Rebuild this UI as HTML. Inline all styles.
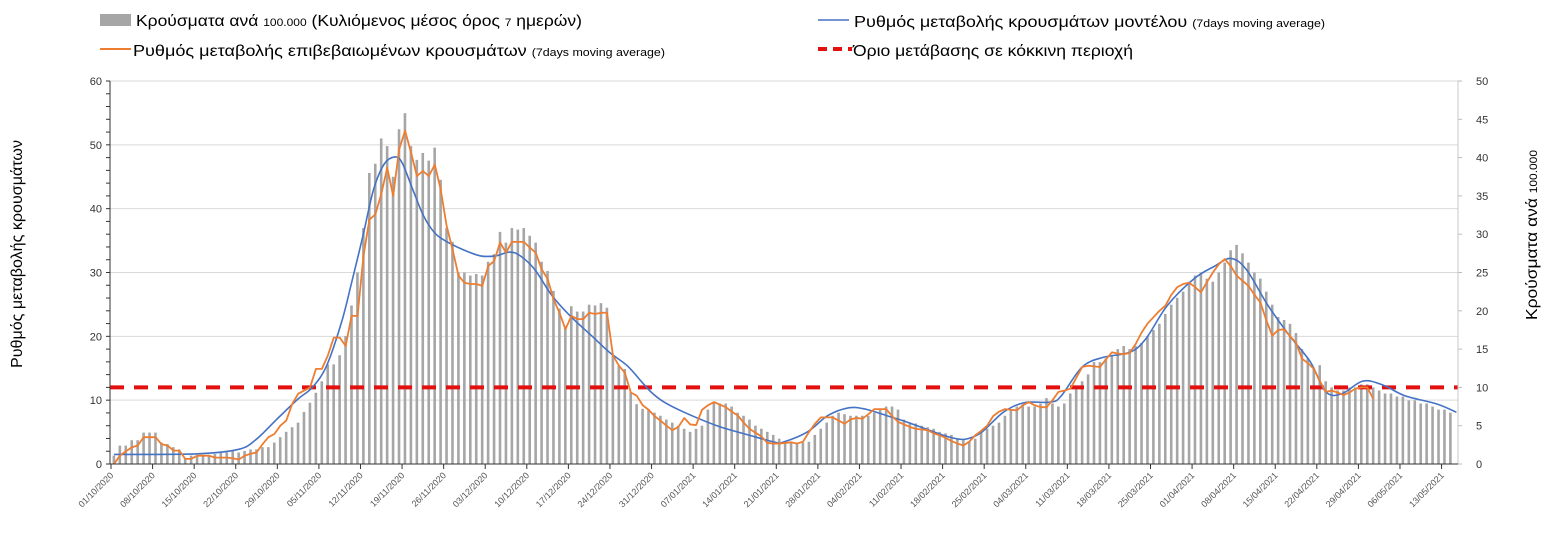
<!DOCTYPE html>
<html><head><meta charset="utf-8"><style>
html,body{margin:0;padding:0;background:#fff;}
svg{display:block;font-family:"Liberation Sans",Arial,sans-serif;}
</style></head><body>
<svg id="chart" width="1552" height="555" viewBox="0 0 1552 555">
<g id="legend">
 <g>
  <rect x="100" y="14" width="31" height="12" fill="#a6a6a6"/>
  <text x="136" y="26" font-size="16" fill="#000" textLength="446" lengthAdjust="spacingAndGlyphs">Κρούσματα ανά <tspan font-size="11">100.000</tspan> (Κυλιόμενος μέσος όρος <tspan font-size="11">7</tspan> ημερών)</text>
 </g>
 <g>
  <line x1="100" y1="49" x2="131" y2="49" stroke="#ed7d31" stroke-width="2"/>
  <text x="133" y="56" font-size="16" fill="#000" textLength="532" lengthAdjust="spacingAndGlyphs">Ρυθμός μεταβολής επιβεβαιωμένων κρουσμάτων <tspan font-size="11">(7days moving average)</tspan></text>
 </g>
 <g>
  <line x1="818" y1="20" x2="849" y2="20" stroke="#4472c4" stroke-width="1.5"/>
  <text x="854" y="27" font-size="16" fill="#000" textLength="471" lengthAdjust="spacingAndGlyphs">Ρυθμός μεταβολής κρουσμάτων μοντέλου <tspan font-size="11">(7days moving average)</tspan></text>
 </g>
 <g>
  <line x1="818" y1="49" x2="852" y2="49" stroke="#e31010" stroke-width="4" stroke-dasharray="9 6"/>
  <text x="853" y="56" font-size="16" fill="#000" textLength="280" lengthAdjust="spacingAndGlyphs">Όριο μετάβασης σε κόκκινη περιοχή</text>
 </g>
</g>
<text transform="translate(22,254) rotate(-90)" text-anchor="middle" font-size="16" fill="#000" textLength="228" lengthAdjust="spacingAndGlyphs">Ρυθμός μεταβολής κρουσμάτων</text>
<text transform="translate(1537,235) rotate(-90)" text-anchor="middle" font-size="16" fill="#000" textLength="170" lengthAdjust="spacingAndGlyphs">Κρούσματα ανά <tspan font-size="11">100.000</tspan></text>
<g id="grid"></g>
<g id="bars"></g>
<g id="threshold"></g>
<g id="lines"></g>
<g id="axes"></g>
</svg>
<script>
const barValues=[1.1,2.4,2.4,3.1,3.1,4.1,4.1,4.1,2.8,2.6,2.2,1.9,0.8,1.1,1.1,1.2,1.2,1.3,1.5,1.5,1.8,1.5,1.7,1.9,1.9,2.2,2.2,2.8,3.5,4.2,4.8,5.4,6.8,8,9.3,10.8,13,13,14.2,16.7,20.7,25,30.8,38,39.2,42.5,41.5,37.5,43.7,45.8,41.5,39.7,40.6,39.6,41.3,37.1,30.8,29,25,25,24.6,24.8,24.6,26.4,27.4,30.3,28.9,30.8,30.6,30.8,29.8,28.9,26.4,25.2,22.6,20.3,18,20.6,19.9,19.9,20.8,20.7,21,20.4,14.2,12.8,12.4,9.3,7.8,7.2,7.1,6.7,6.3,5.8,5.4,5,4.6,4.2,4.6,5,7.1,7.9,7.9,7.9,7.5,6.7,6.3,5.8,5,4.6,4.2,3.8,3.3,2.9,2.9,2.8,2.8,2.9,3.8,4.6,5.4,6.3,6.7,6.5,6.3,6.3,6.3,6.3,6.7,7.1,7.5,7.5,7.1,5.8,5.4,5.3,5,4.8,4.6,4.2,4,3.8,3.3,3.2,2.9,3.3,4.2,4.6,5,5.4,6.3,7.1,7.5,7.8,7.5,7.5,7.9,8.6,7.9,7.5,7.9,9.2,10,10.8,11.7,13.3,13.3,13.8,14.2,15,15.4,15,15.4,15.8,16.7,17.5,18.3,19.6,20.8,21.7,22.5,23.8,24.6,25,24.2,23.8,25,26.3,27.9,28.6,27.5,26.3,25,24.2,22.5,20.8,19.2,18.8,18.3,17.1,15,13.8,12.5,12.9,10.8,10,9.6,9.6,10,10,10.4,10.4,10,9.6,9.2,9.2,8.8,8.8,8.3,8.3,7.9,7.9,7.5,7.1,7.1,6.7];
const confirmedRate=[0,1.3,2,2.6,2.9,4.2,4.2,4.2,3.1,2.9,2.1,2.1,0.8,0.8,1.3,1.3,1.3,1,1,1,0.9,0.7,1.3,1.6,1.8,3.1,4.2,4.7,6,6.8,9.4,11,11.5,12,14.9,14.9,17,19.8,19.8,18.5,23.2,23.2,32.6,38.3,39.1,42.3,46.4,42,49.3,52.2,48.8,45.1,45.9,45.1,46.9,43,37.3,33.6,29.5,28.4,28.2,28.2,27.9,31,31.8,34.7,33.1,34.8,34.8,34.8,33.9,33.1,30.5,29,25.8,23.7,21.1,23.2,22.7,22.7,23.7,23.5,23.7,23.7,17,15.4,14.3,11.2,10.7,9.2,8.5,7.5,6.8,6,5.3,5.8,7.2,6.2,6.1,8.5,9.2,9.7,9.3,8.9,8.2,7.6,6.5,5.5,4.9,4.3,3.3,3.2,3.2,3.3,3.4,3.2,3.5,5,6.3,7.3,7.3,7.3,6.8,6.3,7,7.2,7.1,7.8,8.6,8.6,8.6,7.5,6.6,6.2,5.8,5.5,5.4,5.3,4.8,4.5,4.1,3.6,3.2,2.9,3.5,4.5,5.2,6,7.5,8.2,8.6,8.5,8.4,9.2,9.7,9.2,8.9,8.9,10,11.3,11.5,11.8,13.5,15.2,15.4,15.3,15.2,16.4,17.5,17.3,17.2,17.4,18.8,20.6,22,23,24,24.8,26.5,27.7,28.2,28.4,27.7,26.9,28.5,30,31.3,32.1,31,29.5,28.7,27.9,26.5,25.3,22.5,20.1,21,21.1,20,19,16.5,15.8,14.9,13,11.3,11.5,11.2,10.8,11.2,11.8,12,12,10.2];
const modelDays=[0,14,21,24,27.4,31,33.4,35.8,38.3,40,41.9,43.7,45.5,47.3,48.5,50.3,52.1,53.9,55.7,58.7,61.7,64.2,66.6,68.4,70.8,73.8,76.8,80.4,83.4,86.4,88.9,90.5,92.6,96,101.5,107,111.3,112.6,116.7,120.2,123.7,126.5,130,133.7,137.2,140.7,143.4,146.1,149.7,153.2,157.7,159.5,163,166.5,171,173.7,177.3,181.8,185.3,188,190.6,194.3,197.9,201.4,204,206.7,210.3,213.8,217.3,222.7,226];
const modelRate=[1.5,1.6,2.3,3.9,7,10.2,12,15.4,22.2,28.4,35.7,43,47,48.1,47.2,43,38.9,36.3,35,33.6,32.6,32.6,33.2,32.6,30.5,26.3,23.2,20.1,17.5,15.4,12.8,11.2,9.7,8.1,6,4.5,3.4,3.4,5,7.6,8.8,8.6,7.6,6.5,5.3,4.2,3.9,5,8.1,9.6,9.7,10.7,15.2,16.7,17.5,19.6,24.8,29,31,32.2,30.5,24.8,20.1,16,11.3,11,13,12.3,10.7,9.4,8.1];
const leftTicks=[0,10,20,30,40,50,60];
const rightTicks=[0,5,10,15,20,25,30,35,40,45,50];
const dateLabels=["01/10/2020","08/10/2020","15/10/2020","22/10/2020","29/10/2020","05/11/2020","12/11/2020","19/11/2020","26/11/2020","03/12/2020","10/12/2020","17/12/2020","24/12/2020","31/12/2020","07/01/2021","14/01/2021","21/01/2021","28/01/2021","04/02/2021","11/02/2021","18/02/2021","25/02/2021","04/03/2021","11/03/2021","18/03/2021","25/03/2021","01/04/2021","08/04/2021","15/04/2021","22/04/2021","29/04/2021","06/05/2021","13/05/2021"];
const redThreshold=[12];

const NS="http://www.w3.org/2000/svg";
const X0=111,DX=5.94,XL=110,XR=1458,YB=464,YT=81;
const xDay=d=>X0+d*DX;
const yL=v=>YB-(v/60)*(YB-YT);
const yR=v=>YB-(v/50)*(YB-YT);
function mk(tag,attrs,parent){const e=document.createElementNS(NS,tag);for(const k in attrs)e.setAttribute(k,attrs[k]);parent.appendChild(e);return e;}
const grid=document.getElementById('grid'),bars=document.getElementById('bars'),lines=document.getElementById('lines'),axes=document.getElementById('axes'),thr=document.getElementById('threshold');

leftTicks.forEach(v=>{
 if(v>0){const g=mk('line',{x1:XL,x2:XR,y1:yL(v),y2:yL(v),stroke:'#d9d9d9','stroke-width':1},grid);
 
 }
 const t=mk('text',{x:102,y:yL(v)+4,'text-anchor':'end','font-size':11,fill:'#333'},axes);
 t.textContent=v;
 
 
});
for(let v=0;v<=60;v+=2){mk('line',{x1:XL-4,x2:XL,y1:yL(v),y2:yL(v),stroke:'#333','stroke-width':1},axes);}
rightTicks.forEach(v=>{
 const t=mk('text',{x:1476,y:yR(v)+4,'font-size':11,fill:'#333'},axes);
 t.textContent=v;
 
 
 mk('line',{x1:XR,x2:XR+4,y1:yR(v),y2:yR(v),stroke:'#bbb','stroke-width':1},axes);
});
const la=mk('line',{x1:XL,x2:XL,y1:YT,y2:YB,stroke:'#333','stroke-width':1},axes);


const ra=mk('line',{x1:XR,x2:XR,y1:YT,y2:YB,stroke:'#c8c8c8','stroke-width':1},axes);


const xa=mk('line',{x1:XL,x2:XR,y1:YB,y2:YB,stroke:'#333','stroke-width':1},axes);


dateLabels.forEach((s,i)=>{
 const x=xDay(i*7);
 mk('line',{x1:x,x2:x,y1:YB,y2:YB+5,stroke:'#333','stroke-width':1},axes);
 const t=mk('text',{transform:`translate(${x+3},${YB+12}) rotate(-45)`,'text-anchor':'end','font-size':9,fill:'#555'},axes);
 t.textContent=s;
 
 
});
barValues.forEach((v,i)=>{
 const y=yR(v);
 const b=mk('rect',{x:xDay(i)+1.6,y:y,width:2.6,height:YB-y,fill:'#a6a6a6'},bars);
 
 
});
redThreshold.forEach(v=>{
 const r=mk('line',{x1:XL,x2:XR,y1:yL(v),y2:yL(v),stroke:'#e31010','stroke-width':4,'stroke-dasharray':'14 10'},thr);
 
 
});
const pts=modelDays.map((d,i)=>[xDay(d)+3,yL(modelRate[i])]);
let dpath=`M${pts[0][0]},${pts[0][1]}`;
for(let i=0;i<pts.length-1;i++){
 const p0=pts[Math.max(0,i-1)],p1=pts[i],p2=pts[i+1],p3=pts[Math.min(pts.length-1,i+2)];
 const c1=[p1[0]+(p2[0]-p0[0])/6,p1[1]+(p2[1]-p0[1])/6],c2=[p2[0]-(p3[0]-p1[0])/6,p2[1]-(p3[1]-p1[1])/6];
 dpath+=` C${c1[0]},${c1[1]} ${c2[0]},${c2[1]} ${p2[0]},${p2[1]}`;
}
const ml=mk('path',{d:dpath,fill:'none',stroke:'#4472c4','stroke-width':1.6},lines);


const op=confirmedRate.map((v,i)=>`${i?'L':'M'}${xDay(i)+3},${yL(v)}`).join(' ');
const ol=mk('path',{d:op,fill:'none',stroke:'#ed7d31','stroke-width':1.8,'stroke-linejoin':'round'},lines);


</script>
</body></html>
